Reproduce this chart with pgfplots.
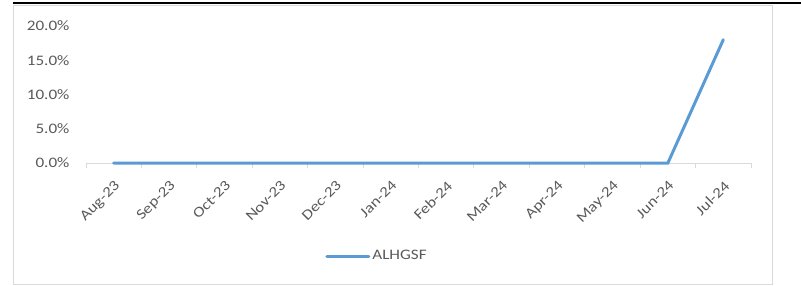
\documentclass[border=0pt]{standalone}
\usepackage{pgfplots}
\pgfplotsset{compat=1.18}
\usepackage{fontspec}
\setmainfont{Carlito}[FakeStretch=1.18]
\definecolor{lineblue}{RGB}{91,155,213}
\definecolor{txtgray}{RGB}{89,89,89}
\definecolor{axgray}{RGB}{217,217,217}
\begin{document}
\begin{tikzpicture}[x=1pt,y=1pt]
\path[use as bounding box] (0,0) rectangle (801,285);
\draw[axgray, line width=1pt] (13.5,1) rectangle (772,280);
\draw[black, line width=1.2pt] (13,282) -- (801,282);
\begin{axis}[
  at={(86pt,122pt)}, anchor=south west,
  scale only axis, width=665pt, height=137pt,
  xmin=0.5, xmax=12.5, ymin=0, ymax=0.2,
  axis x line*=bottom, axis y line*=left,
  x axis line style={draw=axgray, line width=1pt, -},
  y axis line style={draw=none},
  xtick={1,2,3,4,5,6,7,8,9,10,11,12},
  xticklabels={Aug-23,Sep-23,Oct-23,Nov-23,Dec-23,Jan-24,Feb-24,Mar-24,Apr-24,May-24,Jun-24,Jul-24},
  ytick={0,0.05,0.1,0.15,0.2},
  yticklabels={0.0\%,5.0\%,10.0\%,15.0\%,20.0\%},
  major tick length=0pt,
  ytick style={draw=none},
  xtick style={draw=none},
  extra x ticks={0.5,1.5,2.5,3.5,4.5,5.5,6.5,7.5,8.5,9.5,10.5,11.5,12.5},
  extra x tick labels={},
  extra x tick style={major tick length=5pt, tick align=outside, xtick style={draw=axgray, line width=1pt}},
  tick label style={font=\fontsize{14.5}{17}\selectfont, text=txtgray},
  /pgf/number format/assume math mode=true,
  yticklabel style={anchor=east, xshift=-13pt},
  xticklabel style={xshift=0pt, yshift=-12pt, rotate=45, anchor=north east},
  legend style={at={(0.4376,-0.679)}, anchor=center, draw=none, fill=none,
    font=\fontsize{14.5}{17}\selectfont, text=txtgray, inner sep=0pt},
  legend image code/.code={\draw[#1] (0pt,0pt) -- (42pt,0pt);},
  legend cell align=left,
  clip=false,
]
\addplot[lineblue, line width=3pt, line cap=round] coordinates {
(1,0) (2,0) (3,0) (4,0) (5,0) (6,0) (7,0) (8,0) (9,0) (10,0) (11,0) (12,0.18)
};
\addlegendentry{ALHGSF}
\end{axis}
\end{tikzpicture}
\end{document}
